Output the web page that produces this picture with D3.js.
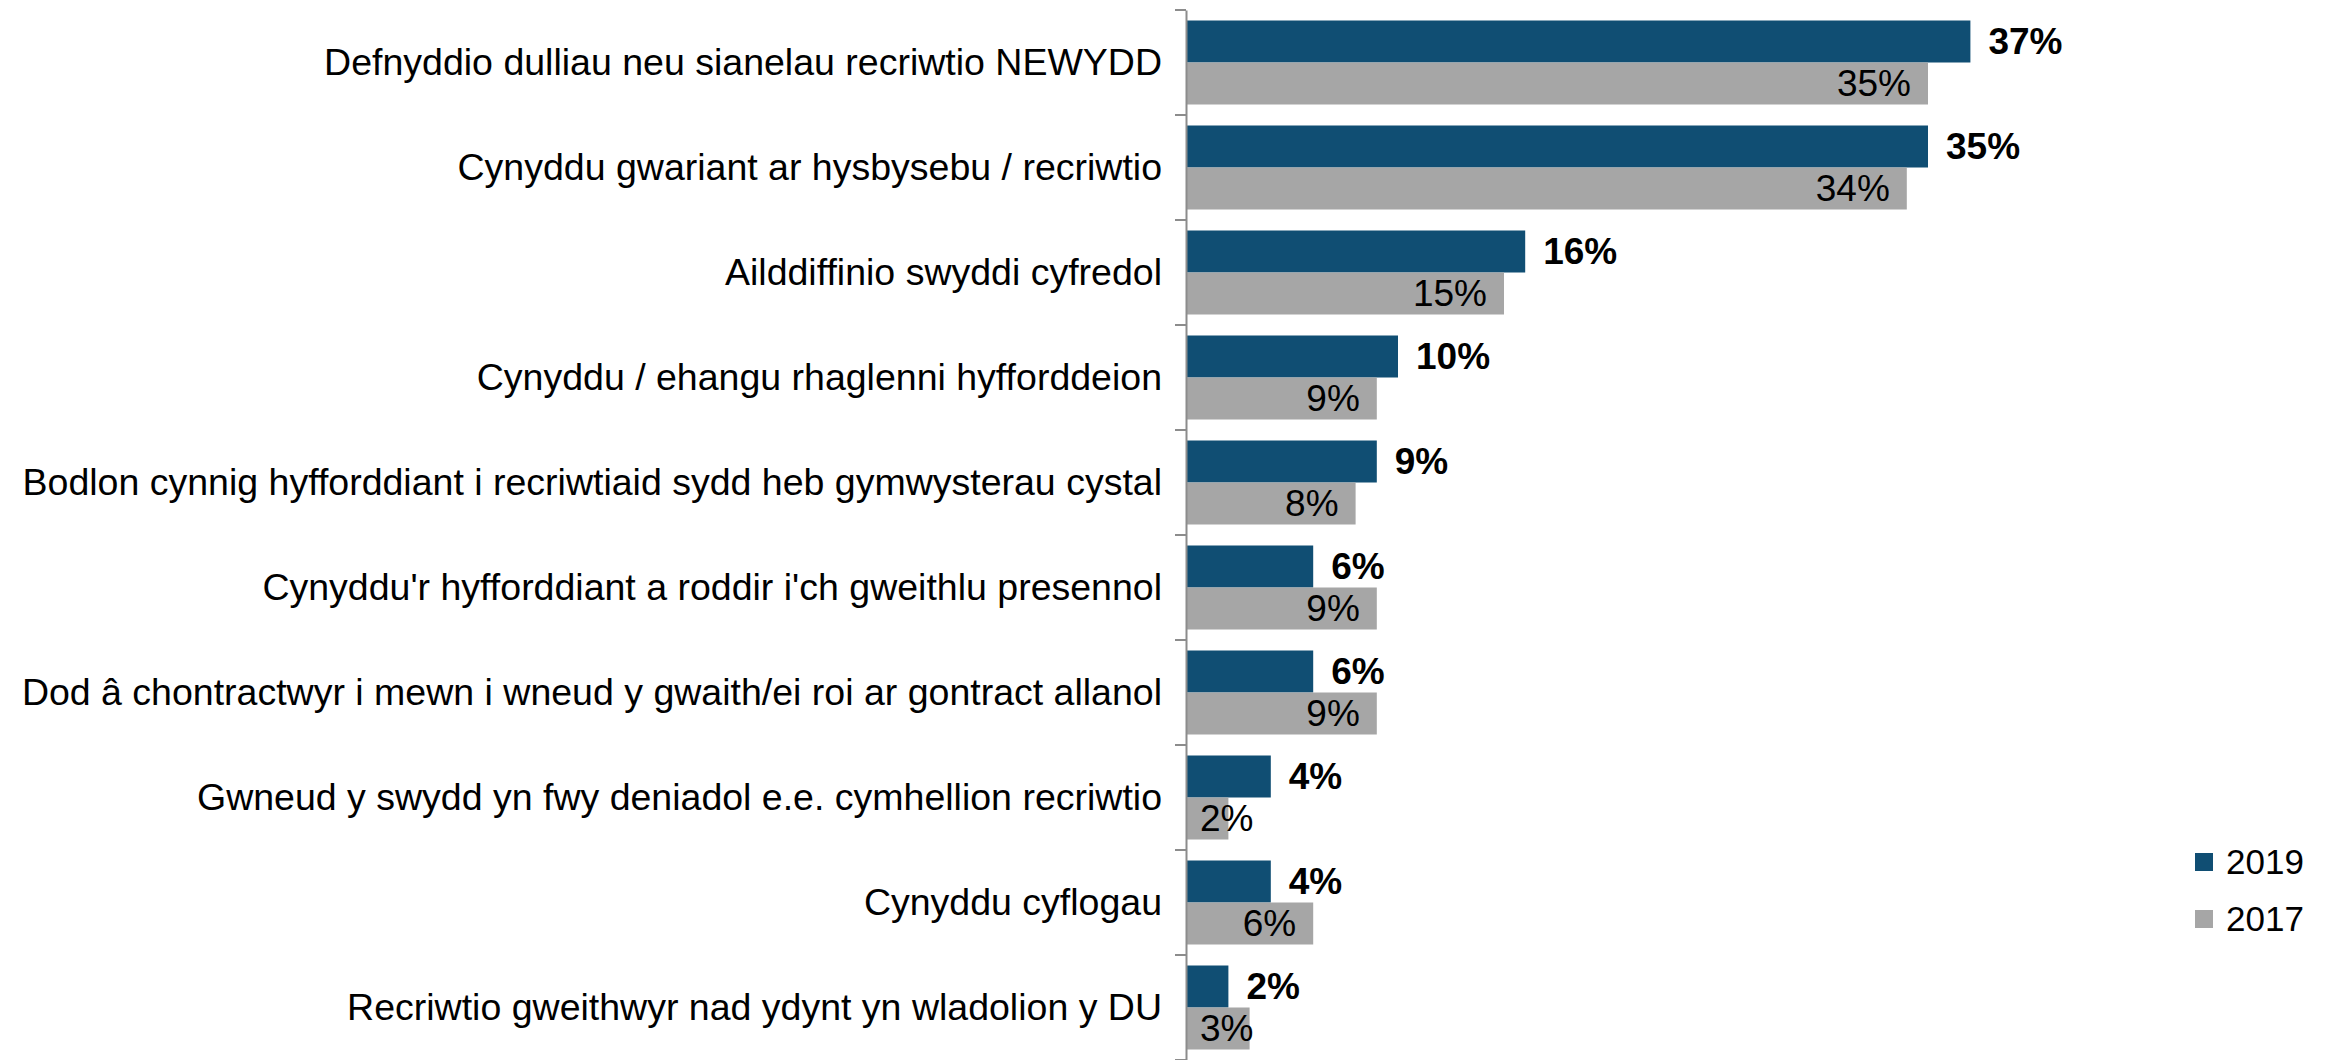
<!DOCTYPE html>
<html>
<head>
<meta charset="utf-8">
<script src="https://cdn.jsdelivr.net/npm/d3@7"></script>
<style>
  body { margin: 0; background: #fff; }
  text { font-family: "Liberation Sans", Arial, sans-serif; }
</style>
</head>
<body>
<script>

// categories, top to bottom
let categories = [
    "Defnyddio dulliau neu sianelau recriwtio NEWYDD",
    "Cynyddu gwariant ar hysbysebu / recriwtio",
    "Ailddiffinio swyddi cyfredol",
    "Cynyddu / ehangu rhaglenni hyfforddeion",
    "Bodlon cynnig hyfforddiant i recriwtiaid sydd heb gymwysterau cystal",
    "Cynyddu'r hyfforddiant a roddir i'ch gweithlu presennol",
    "Dod â chontractwyr i mewn i wneud y gwaith/ei roi ar gontract allanol",
    "Gwneud y swydd yn fwy deniadol e.e. cymhellion recriwtio",
    "Cynyddu cyflogau",
    "Recriwtio gweithwyr nad ydynt yn wladolion y DU"
]
let values2019 = [37, 35, 16, 10, 9, 6, 6, 4, 4, 2]
let values2017 = [35, 34, 15, 9, 8, 9, 9, 2, 6, 3]
let seriesNames = ["2019", "2017"]

let width = 2326
let height = 1060
let axisX = 1186
let plotTop = 10
let plotBottom = 1060
let labelFont = 37.5
let valueFont = 37
let legendFont = 35

let colors = { "2019": "#104E73", "2017": "#A6A6A6" }

let svg = d3.select("body")
    .append("svg")
    .attr("width", width)
    .attr("height", height)

// scales
let yScale = d3.scaleBand()
    .domain(categories)
    .range([plotTop, plotBottom])
    .padding(0)

let ySub = d3.scaleBand()
    .domain(seriesNames)
    .range([0, yScale.bandwidth()])
    .paddingOuter(0.25)
    .paddingInner(0)

let xScale = d3.scaleLinear()
    .domain([0, 40])
    .range([axisX, axisX + 848])

let rows = categories.map((c, i) => ({ cat: c, "2019": values2019[i], "2017": values2017[i] }))

// bars
let groups = svg.selectAll("g.row")
    .data(rows)
    .enter()
    .append("g")
    .attr("class", "row")
    .attr("transform", d => "translate(0," + yScale(d.cat) + ")")

groups.selectAll("rect")
    .data(d => seriesNames.map(s => ({ series: s, value: d[s] })))
    .enter()
    .append("rect")
    .attr("x", xScale(0))
    .attr("y", d => ySub(d.series))
    .attr("width", d => xScale(d.value) - xScale(0))
    .attr("height", ySub.bandwidth())
    .style("fill", d => colors[d.series])

// 2019 labels: bold, outside end
groups.append("text")
    .attr("x", d => xScale(d["2019"]) + 18)
    .attr("y", ySub("2019") + ySub.bandwidth() / 2)
    .attr("dy", "0.35em")
    .style("font-size", valueFont + "px")
    .style("font-weight", "bold")
    .text(d => d["2019"] + "%")

// 2017 labels: inside end, pushed right when bar is short
groups.append("text")
    .attr("y", ySub("2017") + ySub.bandwidth() / 2)
    .attr("dy", "0.35em")
    .attr("text-anchor", "end")
    .style("font-size", valueFont + "px")
    .text(d => d["2017"] + "%")
    .attr("x", function (d) {
        let w = this.getComputedTextLength()
        return Math.max(xScale(d["2017"]) - 17, xScale(0) + 14 + w)
    })

// y axis with category labels
let yAxis = d3.axisLeft(yScale).tickSize(0).tickPadding(24)
let axisG = svg.append("g")
    .attr("transform", "translate(" + axisX + ",0)")
    .call(yAxis)
axisG.select(".domain").attr("stroke", "#8C8C8C").attr("stroke-width", 2)
axisG.selectAll("text")
    .style("font-size", labelFont + "px")
    .style("font-family", "'Liberation Sans', Arial, sans-serif")
    .attr("fill", "#000")

// tick marks at band boundaries
let boundaries = categories.map(c => yScale(c)).concat([yScale.range()[1]])
axisG.selectAll("line.bound")
    .data(boundaries)
    .enter()
    .append("line")
    .attr("class", "bound")
    .attr("x1", -11)
    .attr("x2", 0)
    .attr("y1", d => d)
    .attr("y2", d => d)
    .attr("stroke", "#8C8C8C")
    .attr("stroke-width", 2)

// legend
let legend = svg.append("g")
    .attr("transform", "translate(2195,853)")
let items = legend.selectAll("g")
    .data(seriesNames)
    .enter()
    .append("g")
    .attr("transform", (d, i) => "translate(0," + i * 57 + ")")
items.append("rect")
    .attr("width", 18)
    .attr("height", 18)
    .style("fill", d => colors[d])
items.append("text")
    .attr("x", 31)
    .attr("y", 9)
    .attr("dy", "0.35em")
    .style("font-size", legendFont + "px")
    .text(d => d)

</script>
</body>
</html>
